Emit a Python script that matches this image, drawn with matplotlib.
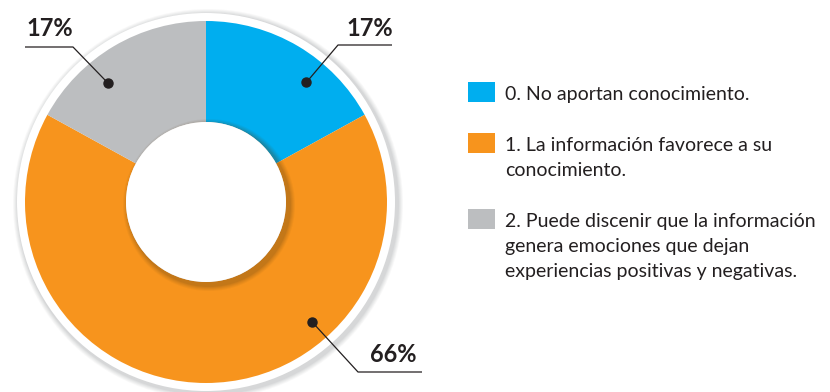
import numpy as np
import matplotlib
matplotlib.use("Agg")
import matplotlib.pyplot as plt
from matplotlib.patches import Circle, Rectangle

# datos de la encuesta
categorias = [
    "0. No aportan conocimiento.",
    "1. La información favorece a su\nconocimiento.",
    "2. Puede discenir que la información\ngenera emociones que dejan\nexperiencias positivas y negativas.",
]
porcentajes = [17, 66, 17]
colores = ["#00AEEF", "#F7941D", "#BCBEC0"]

TEXTO = "#231F20"
plt.rcParams["font.family"] = ["Lato", "DejaVu Sans"]

W, H = 830, 392
fig = plt.figure(figsize=(W / 100, H / 100), dpi=100)
ax = fig.add_axes([0, 0, 1, 1])

cx, cy = 206, 190
r_ext, r_int = 181, 80

# anillo blanco con sombra suave alrededor del donut
for i, a in enumerate([0.05, 0.06, 0.07, 0.08, 0.09]):
    ax.add_patch(Circle((cx + 2, cy - 2), 195 - i, color="#808285", alpha=a, lw=0, zorder=0))
ax.add_patch(Circle((cx, cy), 189, color="white", lw=0, zorder=1))

ax.pie(porcentajes, colors=colores, startangle=90, counterclock=False,
       center=(cx, cy), radius=r_ext,
       wedgeprops=dict(width=r_ext - r_int, linewidth=0), frame=True)
ax.set_xlim(0, W)
ax.set_ylim(0, H)
ax.set_aspect("equal")
ax.axis("off")

# sombra interior del hueco
for i, a in enumerate([0.05, 0.06, 0.07, 0.08, 0.1]):
    ax.add_patch(Circle((cx + 3, cy - 3), r_int + 6 - i, color="#5a3a10", alpha=a, lw=0, zorder=3))
ax.add_patch(Circle((cx, cy), r_int, color="white", lw=0, zorder=4))

# etiquetas con líneas guía: (ángulo, radio del punto, codo, fin de la línea, texto)
guias = [
    (50, 156, (338, 347), (392, 347), (370, 364)),
    (-48.5, 160, (358, 20), (422, 20), (393, 37)),
    (129.5, 154, (73, 345), (25, 345), (50, 364)),
]
for pct, (ang, rr, codo, fin, pos_txt) in zip(porcentajes, guias):
    px = cx + rr * np.cos(np.radians(ang))
    py = cy + rr * np.sin(np.radians(ang))
    ax.plot([px, codo[0], fin[0]], [py, codo[1], fin[1]], color=TEXTO, lw=0.9,
            zorder=6, solid_capstyle="butt")
    ax.plot(px, py, "o", color=TEXTO, ms=6.5, zorder=7)
    ax.text(pos_txt[0], pos_txt[1], f"{pct}%", ha="center", va="center",
            fontsize=17, fontweight="bold", color=TEXTO, zorder=7)

# leyenda
cuadros_y = [300, 249, 173]
for cat, col, y0 in zip(categorias, colores, cuadros_y):
    ax.add_patch(Rectangle((468, y0 - 10), 27, 20, color=col, lw=0))
    for j, linea in enumerate(cat.split("\n")):
        ax.text(505, y0 - 8 - 25 * j, linea, fontsize=14, color=TEXTO,
                ha="left", va="baseline")

fig.savefig("out.png", dpi=100)
